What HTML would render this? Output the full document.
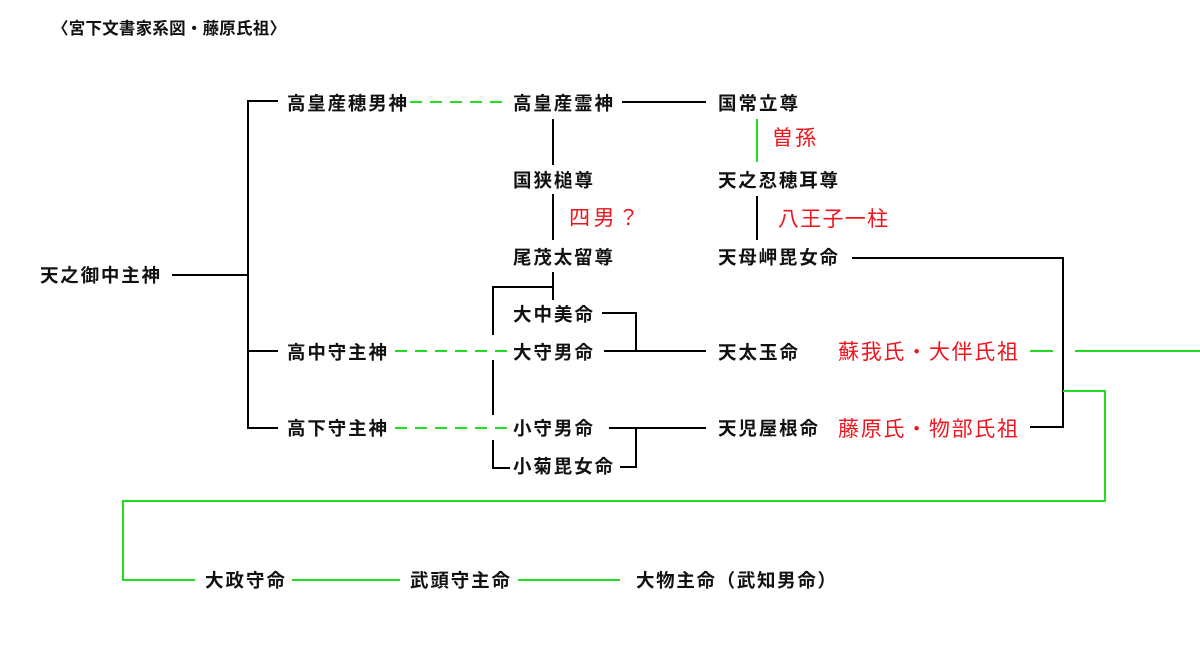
<!DOCTYPE html>
<html><head><meta charset="utf-8"><style>
html,body{margin:0;padding:0;background:#fff;}
svg{display:block;}
.b{font-family:"Liberation Sans","Noto Sans CJK JP",sans-serif;font-size:18.5px;font-weight:bold;fill:#111;}
.t{font-family:"Liberation Sans","Noto Sans CJK JP",sans-serif;font-size:16.5px;font-weight:bold;fill:#111;}
.r{font-family:"Liberation Sans","Noto Sans CJK JP",sans-serif;font-size:21px;fill:#f0141e;}
.k{stroke:#000;stroke-width:2;fill:none;}
.g{stroke:#22dd22;stroke-width:2;fill:none;}
.d{stroke:#22dd22;stroke-width:2;fill:none;stroke-dasharray:12,8;}
</style></head><body>
<svg width="1200" height="669" xmlns="http://www.w3.org/2000/svg">
<text class="t" x="52" y="34" textLength="234" lengthAdjust="spacing">〈宮下文書家系図・藤原氏祖〉</text>

<path class="k" d="M172 275H248M278 101H248V428H278M248 351H278"/>
<path class="k" d="M622 102H706"/>
<path class="k" d="M553 119V165M553 194V240M553 272V300M553 287H493V335M493 360V415M493 440V468H510"/>
<path class="k" d="M602 313H636V351M604 351H706"/>
<path class="k" d="M609 428H706M636 428V467H620"/>
<path class="k" d="M757 196V240"/>
<path class="k" d="M852 258H1063V427H1030"/>
<path class="d" d="M410 102H510"/>
<path class="d" d="M395 351H510"/>
<path class="d" d="M395 428H510"/>
<path class="g" d="M757 119V162"/>
<path class="g" d="M1030 351H1053M1075 351H1200"/>
<path class="g" d="M1063 391H1105V501H123V580H195"/>
<path class="g" d="M292 580H400M518 580H620"/>

<text class="b" x="40" y="282" textLength="120" lengthAdjust="spacing">天之御中主神</text>
<text class="b" x="287" y="110" textLength="120" lengthAdjust="spacing">高皇産穂男神</text>
<text class="b" x="513" y="110" textLength="100" lengthAdjust="spacing">高皇産霊神</text>
<text class="b" x="718" y="110" textLength="80" lengthAdjust="spacing">国常立尊</text>
<text class="b" x="513" y="187" textLength="80" lengthAdjust="spacing">国狭槌尊</text>
<text class="b" x="718" y="187" textLength="120" lengthAdjust="spacing">天之忍穂耳尊</text>
<text class="b" x="513" y="264" textLength="100" lengthAdjust="spacing">尾茂太留尊</text>
<text class="b" x="718" y="264" textLength="120" lengthAdjust="spacing">天母岬毘女命</text>
<text class="b" x="513" y="321" textLength="80" lengthAdjust="spacing">大中美命</text>
<text class="b" x="287" y="359" textLength="100" lengthAdjust="spacing">高中守主神</text>
<text class="b" x="513" y="359" textLength="80" lengthAdjust="spacing">大守男命</text>
<text class="b" x="718" y="359" textLength="80" lengthAdjust="spacing">天太玉命</text>
<text class="b" x="287" y="435" textLength="100" lengthAdjust="spacing">高下守主神</text>
<text class="b" x="513" y="435" textLength="80" lengthAdjust="spacing">小守男命</text>
<text class="b" x="718" y="435" textLength="100" lengthAdjust="spacing">天児屋根命</text>
<text class="b" x="513" y="473" textLength="100" lengthAdjust="spacing">小菊毘女命</text>
<text class="b" x="205" y="587" textLength="80" lengthAdjust="spacing">大政守命</text>
<text class="b" x="410" y="587" textLength="100" lengthAdjust="spacing">武頭守主命</text>
<text class="b" x="636" y="587" textLength="200" lengthAdjust="spacing">大物主命（武知男命）</text>

<text class="r" x="772" y="145" textLength="44" lengthAdjust="spacing">曽孫</text>
<text class="r" x="569" y="225" textLength="70" lengthAdjust="spacing">四男？</text>
<text class="r" x="778" y="226" textLength="110" lengthAdjust="spacing">八王子一柱</text>
<text class="r" x="838" y="359" textLength="180" lengthAdjust="spacing">蘇我氏・大伴氏祖</text>
<text class="r" x="838" y="436" textLength="180" lengthAdjust="spacing">藤原氏・物部氏祖</text>
</svg>
</body></html>
